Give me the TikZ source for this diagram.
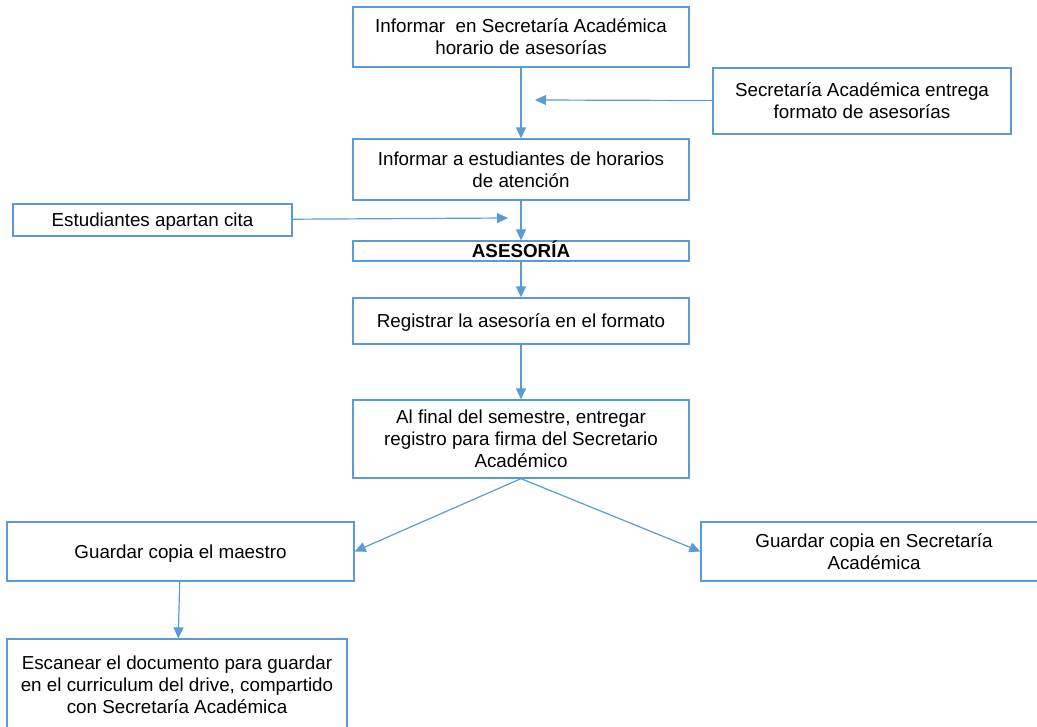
\documentclass[tikz,border=0pt]{standalone}
\usepackage{fontspec}
\setmainfont{Liberation Sans}
\usetikzlibrary{positioning,arrows.meta}
\definecolor{flowblue}{HTML}{5B9BD5}
\tikzset{
  my box/.style={
    draw=flowblue,
    line width=1.3pt,
    fill=white,
    align=center,
    inner sep=0pt,
    font=\fontsize{18.8}{21.8}\selectfont
  },
  my line/.style={
    text height=15pt,
    text depth=1pt
  },
  my arrow/.style={
    -{Triangle[length=11pt,width=10pt]},
    color=flowblue,
    line width=1.2pt
  }
}

\begin{document}
\begin{tikzpicture}[x=1pt,y=-1pt]
\useasboundingbox (0,0) rectangle (1037,727);
\node[my box,minimum width=336pt,minimum height=60pt] (informar) at (521,37)
  {Informar \ en Secretaría Académica\\horario de asesorías};
\node[my box,minimum width=298pt,minimum height=66pt] (formato) at (862,101)
  {Secretaría Académica entrega\\formato de asesorías};
\node[my box,minimum width=336pt,minimum height=61pt] (horarios) at (521,169.5)
  {Informar a estudiantes de horarios\\de atención};
\node[my box,my line,minimum width=279pt,minimum height=32pt] (cita) at (152.5,220)
  {Estudiantes apartan cita};
\node[my box,my line,minimum width=336pt,minimum height=20pt,
  font=\fontsize{18.8}{21.8}\selectfont\bfseries] (asesoria) at (521,251)
  {ASESORÍA};
\node[my box,my line,minimum width=336pt,minimum height=46pt] (registrar) at (521,321)
  {Registrar la asesoría en el formato};
\node[my box,minimum width=336pt,minimum height=78pt] (final) at (521,439)
  {Al final del semestre, entregar\\registro para firma del Secretario\\Académico};
\node[my box,my line,minimum width=347pt,minimum height=59pt] (maestro) at (180.5,551.5)
  {Guardar copia el maestro};
\node[my box,minimum width=346pt,minimum height=59pt] (copia) at (874,551.5)
  {Guardar copia en Secretaría\\Académica};
\node[my box,minimum width=340pt,minimum height=92pt] (escanear) at (177,685)
  {Escanear el documento para guardar\\en el curriculum del drive, compartido\\con Secretaría Académica};
\coordinate (entrega) at (535,100);
\coordinate (apartan) at (508,218);
\path[my arrow] (informar) edge (horarios)
                (formato)  edge (entrega)
                (horarios) edge (asesoria)
                (cita)     edge (apartan)
                (asesoria) edge (registrar)
                (registrar) edge (final)
                (final.south) edge (maestro.east)
                (final.south) edge (copia.west)
                (maestro)  edge (escanear);
\end{tikzpicture}
\end{document}
